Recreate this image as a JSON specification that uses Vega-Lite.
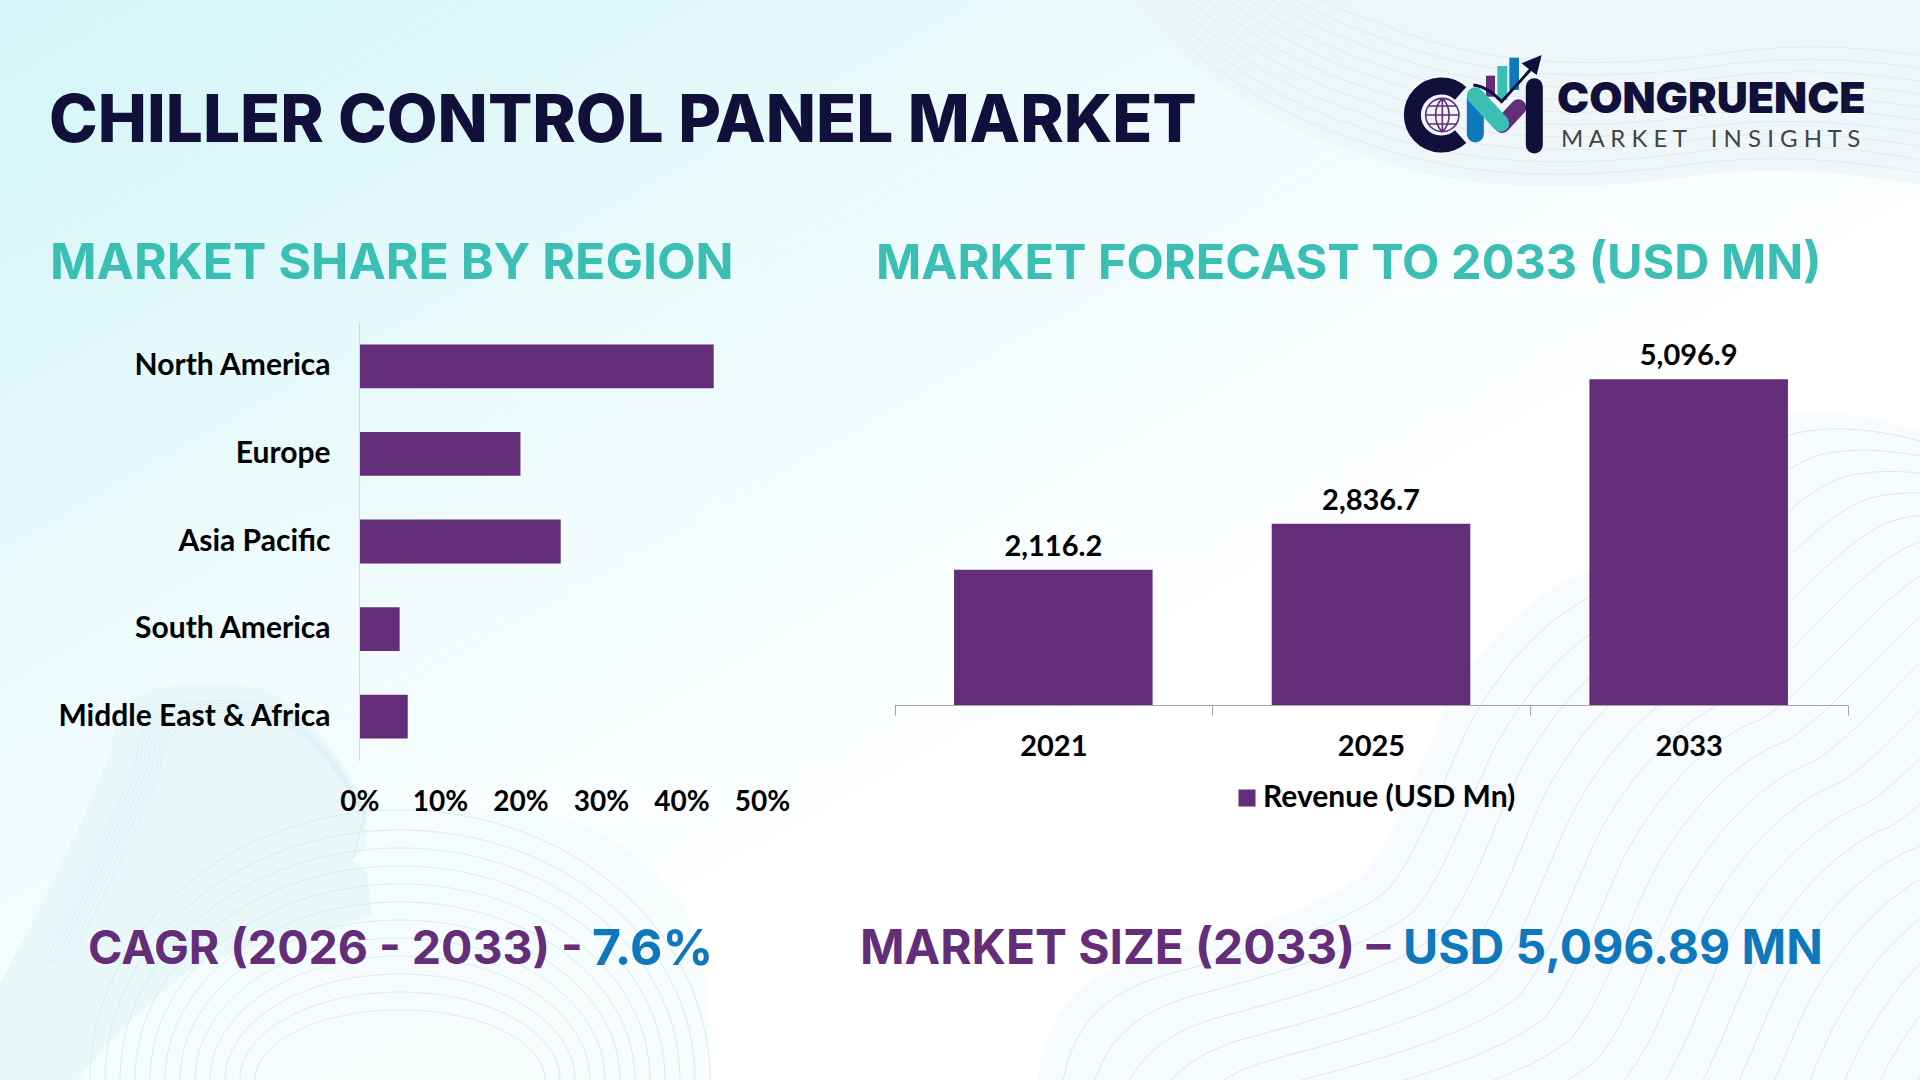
{"$schema":"https://vega.github.io/schema/vega-lite/v6.json","width":1920,"height":1080,"padding":0,"autosize":"none","background":"#ffffff",
"config":{"view":{"stroke":null,"fill":{"gradient":"linear","x1":0,"y1":0,"x2":0.62,"y2":0.62,"stops":[{"offset":0,"color":"#d3f5f7"},{"offset":0.55,"color":"#eefbfc"},{"offset":1,"color":"#ffffff"}]}},"font":"Lato"},
"resolve":{"scale":{"x":"independent","y":"independent","color":"independent"},"axis":{"x":"independent","y":"independent"}},
"layer":[
{"data":{"values":[{"part":"bg"}]},"encoding":{"x":{"field":"part","type":"nominal","scale":{"type":"point","range":[0,0]},"axis":null},"y":{"field":"part","type":"nominal","scale":{"type":"point","range":[0,0]},"axis":null}},
"layer":[
{"mark":{"type":"point","filled":true,"size":4,"fill":"#eef5f9","opacity":0.8,"shape":"M1125 0C1170 50 1250 120 1350 150C1450 190 1560 195 1700 175C1790 165 1860 175 1920 185L1920 0Z"}},
{"mark":{"type":"point","filled":true,"size":4,"fill":"#f3fafc","shape":"M1038 1080C1045 1010 1080 975 1147 957C1230 935 1320 910 1365 873C1400 830 1420 760 1447 707C1490 630 1540 590 1580 575C1640 540 1710 430 1775 416C1830 405 1880 420 1920 430L1920 1080Z"}},
{"mark":{"type":"point","filled":true,"size":4,"fill":"#f4fbfc","shape":"M352 860C380 845 410 830 434 827C460 812 490 808 510 810C555 812 590 825 612 840C650 865 675 890 684 907C700 950 708 985 709 1007L704 1080L77 1080C110 1040 150 1000 194 967C240 950 320 930 372 917Z"}},
{"mark":{"type":"point","filled":true,"size":4,"fill":"#e5f5f8","shape":"M0 983C30 930 80 830 112 750C115 720 120 705 140 695C170 680 230 680 265 690C300 705 345 760 367 807L367 847L352 860L367 873L372 917C320 930 240 950 194 967C150 1000 110 1040 77 1080L0 1080Z"}},
{"mark":{"type":"point","filled":false,"size":4,"stroke":"#d3eef4","strokeWidth":1,"opacity":1,"shape":"M90 1080A310 270 0 0 1 710 1080M105 1080A295 250 0 0 1 695 1080M120 1080A280 232 0 0 1 680 1080M135 1080A265 214 0 0 1 665 1080M150 1080A250 196 0 0 1 650 1080M165 1080A235 178 0 0 1 635 1080M180 1080A220 160 0 0 1 620 1080M195 1080A205 142 0 0 1 605 1080M210 1080A190 124 0 0 1 590 1080M225 1080A175 106 0 0 1 575 1080M240 1080A160 88 0 0 1 560 1080M255 1080A145 70 0 0 1 545 1080"}}
]},
{"data":{"values":[{"step":"a"},{"step":"b"},{"step":"c"},{"step":"d"},{"step":"e"},{"step":"f"},{"step":"g"}]},"mark":{"type":"point","filled":false,"stroke":"#d7eff4","strokeWidth":0.8,"opacity":1,"shape":"M0 0L15 -53C-7 -100 -52 -155 -87 -170C-122 -180 -182 -180 -212 -165C-232 -155 -237 -140 -240 -110C-272 -30 -322 70 -352 123"},"encoding":{"x":{"field":"step","type":"nominal","scale":{"type":"point","range":[352,352]},"axis":null},"y":{"field":"step","type":"nominal","scale":{"type":"point","range":[860,860]},"axis":null},"size":{"field":"step","type":"ordinal","legend":null,"scale":{"range":[3.24,2.56,1.96,1.44,1.0,0.64,0.36]}}}},
{"data":{"values":[{"curve":"a"},{"curve":"b"},{"curve":"c"},{"curve":"d"},{"curve":"e"},{"curve":"f"},{"curve":"g"},{"curve":"h"},{"curve":"i"},{"curve":"j"},{"curve":"k"},{"curve":"l"},{"curve":"m"},{"curve":"n"},{"curve":"o"},{"curve":"p"},{"curve":"q"},{"curve":"r"}]},"mark":{"type":"point","filled":false,"size":4,"stroke":"#cfecf3","strokeWidth":1,"opacity":1,"shape":"M1038 1080C1045 1010 1080 975 1147 957C1230 935 1320 910 1365 873C1400 830 1420 760 1447 707C1490 630 1540 590 1580 575C1640 540 1710 430 1775 416C1830 405 1880 420 1920 430"},"encoding":{"x":{"field":"curve","type":"nominal","scale":{"type":"point","range":[10,480]},"axis":null},"y":{"field":"curve","type":"nominal","scale":{"type":"point","range":[6,390]},"axis":null}}},
{"data":{"values":[{"curve":"a"},{"curve":"b"},{"curve":"c"},{"curve":"d"},{"curve":"e"},{"curve":"f"},{"curve":"g"},{"curve":"h"},{"curve":"i"},{"curve":"j"}]},"mark":{"type":"point","filled":false,"size":4,"stroke":"#e0ecf3","strokeWidth":1,"opacity":1,"shape":"M1125 0C1170 50 1250 120 1350 150C1450 190 1560 195 1700 175C1790 165 1860 175 1920 185"},"encoding":{"x":{"field":"curve","type":"nominal","scale":{"type":"point","range":[0,40]},"axis":null},"y":{"field":"curve","type":"nominal","scale":{"type":"point","range":[-6,-130]},"axis":null}}},
{"data":{"values":[{"region":"North America","share":44},{"region":"Europe","share":20},{"region":"Asia Pacific","share":25},{"region":"South America","share":5},{"region":"Middle East & Africa","share":6}]},"mark":{"type":"bar","color":"#632D79"},"encoding":{
"y":{"field":"region","type":"nominal","sort":null,"scale":{"range":[322.5,760.5],"paddingInner":0.5,"paddingOuter":0.25},"axis":{"title":null,"orient":"left","zindex":1,"offset":-359,"domainColor":"#d9d9d9","ticks":false,"labelPadding":29,"labelFontSize":30,"labelFont":"Lato","labelFontWeight":"bold","labelColor":"#000000","labelLimit":400}},
"x":{"field":"share","type":"quantitative","scale":{"domain":[0,50],"range":[359.4,762],"nice":false},"axis":{"title":null,"orient":"bottom","zindex":1,"offset":-298,"values":[0,10,20,30,40,50],"labelExpr":"datum.value + '%'","domain":false,"ticks":false,"grid":false,"labelPadding":6,"labelFontSize":28,"labelFont":"Lato","labelFontWeight":"bold","labelColor":"#000000","labelFlush":false}}}},
{"data":{"name":"rev","values":[{"year":"2021","revenue":2116.2,"series":"Revenue (USD Mn)"},{"year":"2025","revenue":2836.7,"series":"Revenue (USD Mn)"},{"year":"2033","revenue":5096.9,"series":"Revenue (USD Mn)"}]},"encoding":{
"x":{"field":"year","type":"nominal","scale":{"range":[894.5,1847.5],"paddingInner":0,"paddingOuter":0},"axis":{"title":null,"orient":"bottom","zindex":1,"offset":-375,"labelAngle":0,"domainColor":"#a6a6a6","tickColor":"#a6a6a6","tickBand":"extent","tickSize":10,"labelPadding":17,"labelFontSize":29,"labelFont":"Lato","labelFontWeight":"bold","labelColor":"#000000"}},
"y":{"field":"revenue","type":"quantitative","scale":{"domain":[0,6000],"range":[705,321.6],"nice":false},"axis":null}},
"layer":[
{"mark":{"type":"bar","width":{"band":0.625}},"encoding":{"color":{"field":"series","type":"nominal","scale":{"range":["#632D79"]},"legend":{"title":null,"orient":"none","legendX":1232,"legendY":783,"symbolType":"square","symbolSize":289,"symbolStrokeWidth":0,"labelFontSize":30,"labelFont":"Lato","labelFontWeight":"bold","labelColor":"#000000","labelOffset":1,"labelLimit":400}}}},
{"mark":{"type":"text","dy":-23,"fontSize":29,"fontWeight":"bold","font":"Lato","color":"#000000"},"encoding":{"text":{"field":"revenue","type":"quantitative","format":",.1f"}}}
]},
{"data":{"values":[{"t":"CHILLER CONTROL PANEL MARKET"}]},"mark":{"type":"text","align":"left","baseline":"middle","font":"Inter","fontWeight":800,"fontSize":65.7,"color":"#10103A"},"encoding":{"text":{"field":"t"},"x":{"field":"t","type":"nominal","scale":{"type":"point","range":[49,49]},"axis":null},"y":{"field":"t","type":"nominal","scale":{"type":"point","range":[122,122]},"axis":null}}},
{"data":{"values":[{"t":"MARKET SHARE BY REGION"}]},"mark":{"type":"text","align":"left","baseline":"middle","font":"Inter","fontWeight":700,"fontSize":50,"color":"#3BBFB5"},"encoding":{"text":{"field":"t"},"x":{"field":"t","type":"nominal","scale":{"type":"point","range":[50,50]},"axis":null},"y":{"field":"t","type":"nominal","scale":{"type":"point","range":[264,264]},"axis":null}}},
{"data":{"values":[{"t":"MARKET FORECAST TO 2033 (USD MN)"}]},"mark":{"type":"text","align":"left","baseline":"middle","font":"Inter","fontWeight":700,"fontSize":48.6,"color":"#3BBFB5"},"encoding":{"text":{"field":"t"},"x":{"field":"t","type":"nominal","scale":{"type":"point","range":[876,876]},"axis":null},"y":{"field":"t","type":"nominal","scale":{"type":"point","range":[264,264]},"axis":null}}},
{"data":{"values":[{"t":"CAGR (2026 - 2033) -"}]},"mark":{"type":"text","align":"left","baseline":"middle","font":"Inter","fontWeight":700,"fontSize":46.5,"color":"#632D79"},"encoding":{"text":{"field":"t"},"x":{"field":"t","type":"nominal","scale":{"type":"point","range":[88,88]},"axis":null},"y":{"field":"t","type":"nominal","scale":{"type":"point","range":[950,950]},"axis":null}}},
{"data":{"values":[{"t":"7.6%"}]},"mark":{"type":"text","align":"left","baseline":"middle","font":"Inter","fontWeight":700,"fontSize":50,"color":"#0F77BB"},"encoding":{"text":{"field":"t"},"x":{"field":"t","type":"nominal","scale":{"type":"point","range":[592,592]},"axis":null},"y":{"field":"t","type":"nominal","scale":{"type":"point","range":[950,950]},"axis":null}}},
{"data":{"values":[{"t":"MARKET SIZE (2033) –"}]},"mark":{"type":"text","align":"left","baseline":"middle","font":"Inter","fontWeight":700,"fontSize":47.8,"color":"#632D79"},"encoding":{"text":{"field":"t"},"x":{"field":"t","type":"nominal","scale":{"type":"point","range":[860,860]},"axis":null},"y":{"field":"t","type":"nominal","scale":{"type":"point","range":[950,950]},"axis":null}}},
{"data":{"values":[{"t":"USD 5,096.89 MN"}]},"mark":{"type":"text","align":"left","baseline":"middle","font":"Inter","fontWeight":700,"fontSize":48,"color":"#0F77BB"},"encoding":{"text":{"field":"t"},"x":{"field":"t","type":"nominal","scale":{"type":"point","range":[1403,1403]},"axis":null},"y":{"field":"t","type":"nominal","scale":{"type":"point","range":[950,950]},"axis":null}}},
{"data":{"values":[{"t":"CONGRUENCE"}]},"mark":{"type":"text","align":"left","baseline":"middle","font":"Inter","fontWeight":900,"fontSize":43,"color":"#10103A"},"encoding":{"text":{"field":"t"},"x":{"field":"t","type":"nominal","scale":{"type":"point","range":[1557,1557]},"axis":null},"y":{"field":"t","type":"nominal","scale":{"type":"point","range":[100,100]},"axis":null}}},
{"data":{"values":[{"t":"M A R K E T\u00a0\u00a0\u00a0 I N S I G H T S"}]},"mark":{"type":"text","align":"left","baseline":"middle","font":"Lato","fontWeight":"normal","fontSize":24,"color":"#444444"},"encoding":{"text":{"field":"t"},"x":{"field":"t","type":"nominal","scale":{"type":"point","range":[1561,1561]},"axis":null},"y":{"field":"t","type":"nominal","scale":{"type":"point","range":[140,140]},"axis":null}}},
{"data":{"values":[{"part":"logo"}]},"encoding":{"x":{"field":"part","type":"nominal","scale":{"type":"point","range":[1380,1380]},"axis":null},"y":{"field":"part","type":"nominal","scale":{"type":"point","range":[30,30]},"axis":null}},
"layer":[
{"mark":{"type":"point","filled":false,"size":0.4444,"stroke":"#10103A","strokeWidth":17,"opacity":1,"shape":"M242 190A87 87 0 1 0 242 320"}},
{"mark":{"type":"point","filled":false,"size":0.4444,"stroke":"#632D79","strokeWidth":1.6,"opacity":1,"shape":"M237 255A50 50 0 1 1 137 255A50 50 0 1 1 237 255M187 205C160 230 160 280 187 305M187 205C214 230 214 280 187 305M187 205V305M137 255H237M145 228H229M145 282H229"}},
{"mark":{"type":"point","filled":true,"size":0.4444,"fill":"#632D79","opacity":1,"shape":"M318 137H345V200H318Z"}},
{"mark":{"type":"point","filled":true,"size":0.4444,"fill":"#3BBFB5","opacity":1,"shape":"M352 108H382V210H352Z"}},
{"mark":{"type":"point","filled":true,"size":0.4444,"fill":"#0F77BB","opacity":1,"shape":"M388 83H417V180H388Z"}},
{"mark":{"type":"point","filled":false,"size":0.4444,"stroke":"#0F77BB","strokeWidth":17,"strokeCap":"round","opacity":1,"shape":"M286 312V205"}},
{"mark":{"type":"point","filled":false,"size":0.4444,"stroke":"#632D79","strokeWidth":16,"strokeCap":"round","opacity":1,"shape":"M366 285L415 232"}},
{"mark":{"type":"point","filled":false,"size":0.4444,"stroke":"#3BBFB5","strokeWidth":17,"strokeCap":"round","opacity":1,"shape":"M286 197L362 280"}},
{"mark":{"type":"point","filled":false,"size":0.4444,"stroke":"#10103A","strokeWidth":17,"strokeCap":"round","opacity":1,"shape":"M463 170V345"}},
{"mark":{"type":"point","filled":false,"size":0.4444,"stroke":"#10103A","strokeWidth":3,"opacity":1,"shape":"M280 165C320 170 345 195 365 215L455 115"}},
{"mark":{"type":"point","filled":true,"size":0.4444,"fill":"#10103A","opacity":1,"shape":"M485 75L425 100L470 135Z"}}
]}
]}
